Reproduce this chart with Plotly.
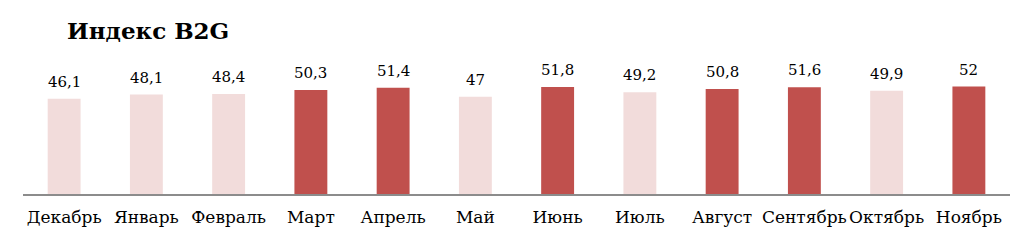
import plotly.graph_objects as go

months = ["Декабрь", "Январь", "Февраль", "Март", "Апрель", "Май", "Июнь",
          "Июль", "Август", "Сентябрь", "Октябрь", "Ноябрь"]
values = [46.1, 48.1, 48.4, 50.3, 51.4, 47, 51.8, 49.2, 50.8, 51.6, 49.9, 52]
labels = ["46,1", "48,1", "48,4", "50,3", "51,4", "47", "51,8", "49,2",
          "50,8", "51,6", "49,9", "52"]

DARK = "#C0504D"
LIGHT = "#F2DCDB"
colors = [DARK if v >= 50 else LIGHT for v in values]

FONT = "DejaVu Serif"

fig = go.Figure()
fig.add_trace(go.Bar(
    x=months, y=values, marker=dict(color=colors, line=dict(width=0)),
    hoverinfo="skip",
))

for m, v, t in zip(months, values, labels):
    fig.add_annotation(x=m, y=v, text=t, showarrow=False, yanchor="bottom",
                       yshift=6, font=dict(family=FONT, size=15, color="#000000"))

fig.update_layout(
    width=1034, height=242,
    margin=dict(l=23, r=24, t=70, b=48),
    paper_bgcolor="white", plot_bgcolor="white",
    bargap=0.6,
    showlegend=False,
    title=dict(text="<b>Индекс B2G</b>", xref="container", yref="container",
               x=67 / 1034, xanchor="left", y=1 - 31 / 242, yanchor="middle",
               font=dict(family=FONT, size=23, color="#000000")),
    xaxis=dict(showline=True, linecolor="#8C8C8C", linewidth=2, ticks="",
               showgrid=False, tickfont=dict(family=FONT, size=17, color="#000000"),
               ticklabelstandoff=7, fixedrange=True),
    yaxis=dict(range=[0, 60], visible=False, showgrid=False, zeroline=False,
               fixedrange=True),
)

fig.write_html("out.html")
